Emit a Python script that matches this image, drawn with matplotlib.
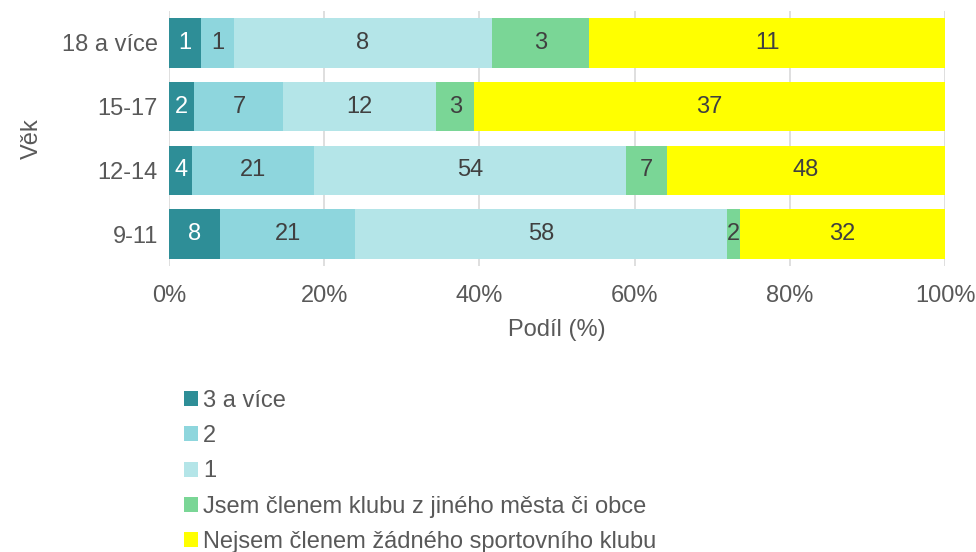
import numpy as np
import matplotlib
matplotlib.use("Agg")
import matplotlib.pyplot as plt
from matplotlib.patches import Patch

plt.rcParams['font.family'] = ['Liberation Sans', 'DejaVu Sans']

# data
ages = ['9-11', '12-14', '15-17', '18 a více']
series = ['3 a více', '2', '1', 'Jsem členem klubu z jiného města či obce',
          'Nejsem členem žádného sportovního klubu']
counts_3plus = [8, 4, 2, 1]
counts_2 = [21, 21, 7, 1]
counts_1 = [58, 54, 12, 8]
counts_other = [2, 7, 3, 3]
counts_none = [32, 48, 37, 11]
colors = ['#2E8E97', '#8ED6DD', '#B4E5E8', '#7AD696', '#FFFF00']
label_colors = ['white', '#404040', '#404040', '#404040', '#404040']

data = np.array([counts_3plus, counts_2, counts_1, counts_other, counts_none], dtype=float)
totals = data.sum(axis=0)
shares = data / totals * 100

fs = 17
fig = plt.figure(figsize=(9.76, 5.52), dpi=100)
ax = fig.add_axes([169 / 976, 1 - 266 / 552, 776 / 976, 255 / 552])

y = np.arange(len(ages))
left = np.zeros(len(ages))
for i in range(len(series)):
    bars = ax.barh(y, shares[i], left=left, height=0.78, color=colors[i],
                   label=series[i], zorder=3)
    for j, b in enumerate(bars):
        ax.text(left[j] + shares[i][j] / 2, y[j], f'{int(data[i][j])}',
                ha='center', va='center', fontsize=fs, color=label_colors[i], zorder=4)
    left += shares[i]

ax.set_xlim(0, 100)
ax.set_ylim(-0.5, len(ages) - 0.5)
ax.set_yticks(y)
ax.set_yticklabels(ages, fontsize=fs, color='#595959')
ax.set_xticks(np.arange(0, 101, 20))
ax.set_xticklabels([f'{v}%' for v in range(0, 101, 20)], fontsize=fs, color='#595959')
ax.tick_params(length=0, pad=8)
ax.tick_params(axis='x', pad=14)
ax.grid(axis='x', color='#D9D9D9', linewidth=1.2, zorder=0)
for s in ax.spines.values():
    s.set_visible(False)
ax.set_xlabel('Podíl (%)', fontsize=fs, color='#595959', labelpad=8)
ax.set_ylabel('Věk', fontsize=fs, color='#595959', labelpad=14)

handles = [Patch(facecolor=c, edgecolor='none') for c in colors]
fig.legend(handles, series, loc='upper left', bbox_to_anchor=(184 / 976, 1 - 390 / 552),
           frameon=False, fontsize=fs, handlelength=0.6, handleheight=0.6,
           handletextpad=0.2, labelspacing=0.56, borderaxespad=0, borderpad=0,
           labelcolor='#595959')

plt.savefig('out.png', dpi=100)
